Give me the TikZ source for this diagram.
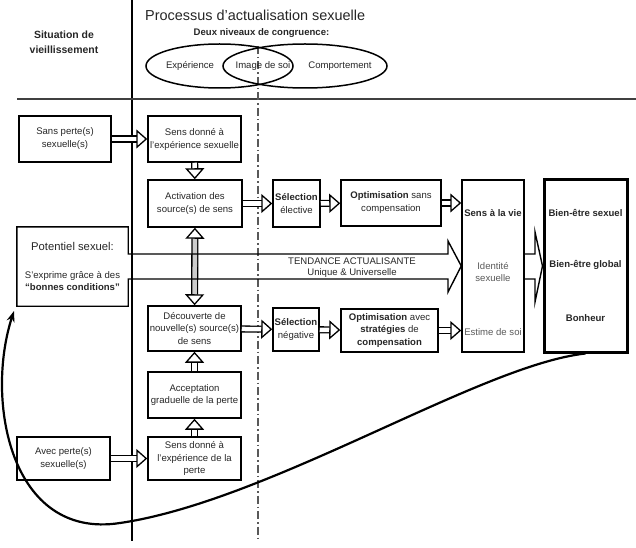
\documentclass[tikz,border=0pt]{standalone}
\usepackage{fontspec}
\setmainfont{Liberation Sans}
\usetikzlibrary{arrows.meta}

\begin{document}
\begin{tikzpicture}[x=1bp, y=-1bp,
    font=\fontsize{9.6}{13}\selectfont,
    boite/.style={draw, line width=1.5bp, inner sep=1bp, align=center, text=black!85},
    texte/.style={align=center, inner sep=0pt, text=black!85},
    fleche/.style={double=white, double distance=4.5bp, line width=1.3bp,
      -{Triangle[open, length=11bp, width=19bp, line width=1.3bp]}},
    flechedouble/.style={double=black!20, double distance=4.5bp, line width=1.3bp,
      {Triangle[open, length=11bp, width=19bp, line width=1.3bp]}-{Triangle[open, length=11bp, width=19bp, line width=1.3bp]}}]
    \useasboundingbox (0,0) rectangle (636,548);

    % Draw the separating lines
    \draw[line width=1.6bp] (132,0) -- (132,541);
    \draw[line width=2.2bp, black!75] (17,99) -- (636,99);
    \draw[black!65, line width=1.4bp, dash pattern=on 8bp off 3bp on 1.5bp off 3bp] (258,46) -- (258,541);

    % Headings
    \node[texte, font=\fontsize{10.5}{15}\selectfont\bfseries] (situation) at (64,42) {Situation de\\vieillissement};
    \node[texte, anchor=west, font=\fontsize{14.5}{16}\selectfont] (titre) at (145,15) {Processus d'actualisation sexuelle};
    \node[texte, font=\fontsize{9.6}{13}\selectfont\bfseries] (niveaux) at (261.5,33) {Deux niveaux de congruence:};

    % The two ellipses of congruence
    \draw[line width=1.5bp] (219.5,66) ellipse [x radius=73.5bp, y radius=22bp];
    \draw[line width=1.5bp] (305,66) ellipse [x radius=82bp, y radius=22bp];
    \node[texte] (experience) at (190,66) {Expérience};
    \node[texte] (imagesoi) at (263,66) {Image de soi};
    \node[texte] (comportement) at (340,66) {Comportement};

    % Boxes of the left column
    \node[boite, minimum width=92bp, minimum height=46bp] (sansperte) at (65,139) {Sans perte(s)\\sexuelle(s)};
    \node[boite, minimum width=93bp, minimum height=43bp] (avecperte) at (63.5,458.5) {Avec perte(s)\\sexuelle(s)};
    \node[texte, minimum width=111bp, minimum height=79bp] (potentiel) at (72.5,266.5)
        {{\fontsize{11.3}{13}\selectfont Potentiel sexuel:}\\[15bp] S'exprime grâce à des\\ \textbf{“bonnes conditions”}};

    % Boxes of the middle column
    \node[boite, minimum width=93bp, minimum height=46bp] (sensexp) at (194.5,139) {Sens donné à\\l'expérience sexuelle};
    \node[boite, minimum width=94bp, minimum height=47bp] (activation) at (195,203.5) {Activation des\\source(s) de sens};
    \node[boite, minimum width=93bp, minimum height=45bp] (decouverte) at (194.5,328.5) {Découverte de\\nouvelle(s) source(s)\\de sens};
    \node[boite, minimum width=93bp, minimum height=46bp] (acceptation) at (194.5,395) {Acceptation\\graduelle de la perte};
    \node[boite, minimum width=93bp, minimum height=43bp] (sensperte) at (194.5,458.5) {Sens donné à\\l'expérience de la\\perte};

    % Selection and optimisation
    \node[boite, minimum width=47bp, minimum height=47bp] (selelective) at (296.5,203.5) {\textbf{Sélection}\\élective};
    \node[boite, minimum width=46bp, minimum height=43bp] (selnegative) at (296,329.5) {\textbf{Sélection}\\négative};
    \node[boite, minimum width=100bp, minimum height=46bp] (optsans) at (391,203) {\textbf{Optimisation} sans\\compensation};
    \node[boite, minimum width=97bp, minimum height=43bp] (optavec) at (389.5,330.5) {\textbf{Optimisation} avec\\\textbf{stratégies} de\\\textbf{compensation}};

    % Outcomes
    \node[boite, minimum width=62bp, minimum height=172bp] (sensvie) at (493,266) {};
    \node[texte] (sensvietitre) at (493,213) {\textbf{Sens à la vie}};
    \node[texte, text=black!65] (identite) at (493,272) {Identité\\sexuelle};
    \node[texte, text=black!65] (estime) at (493,332) {Estime de soi};
    \node[boite, line width=3bp, minimum width=83bp, minimum height=172bp] (bienetre) at (585.5,266) {};
    \node[texte] (bienetresexuel) at (585.5,213) {\textbf{Bien-être sexuel}};
    \node[texte] (bienetreglobal) at (585.5,265) {\textbf{Bien-être global}};
    \node[texte] (bonheur) at (585.5,318) {\textbf{Bonheur}};

    % Hollow arrows between boxes
    \draw[fleche] (sansperte) -- (sensexp);
    \draw[fleche] (sensexp) -- (activation);
    \draw[flechedouble] (activation) -- (decouverte);
    \draw[fleche] (acceptation) -- (decouverte);
    \draw[fleche] (sensperte) -- (acceptation);
    \draw[fleche] (avecperte) -- (sensperte);
    \draw[fleche] (activation) -- (selelective);
    \draw[fleche] (decouverte) -- (selnegative);
    \draw[fleche] (selelective) -- (optsans);
    \draw[fleche] (selnegative) -- (optavec);
    \draw[fleche] (optsans.east) -- (optsans.east -| sensvie.west);
    \draw[fleche] (optavec.east) -- (optavec.east -| sensvie.west);

    % Big arrow of the tendency, open into the potentiel box
    \coordinate (th) at (448,254);
    \coordinate (tb) at (448,279);
    \coordinate (tfh) at (448,241);
    \coordinate (tfb) at (448,292);
    \draw[line width=1.4bp] (potentiel.east |- th) -- (potentiel.north east) -- (potentiel.north west)
        -- (potentiel.south west) -- (potentiel.south east) -- (potentiel.east |- tb)
        -- (tb) -- (tfb) -- (sensvie.west) -- (tfh) -- (th) -- cycle;
    \node[texte] (tendance) at (352,261) {TENDANCE ACTUALISANTE};
    \node[texte] (unique) at (352,273) {Unique \& Universelle};

    % Arrow into the well-being box
    \coordinate (bh) at (535,254);
    \coordinate (bb) at (535,279);
    \coordinate (bfh) at (535,232);
    \coordinate (bfb) at (535,302);
    \draw[line width=1.4bp] (sensvie.east |- bh) -- (bh) -- (bfh) -- (bienetre.west) -- (bfb) -- (bb) -- (sensvie.east |- bb);

    % Return curve
    \coordinate (retour) at (14,311);
    \draw[line width=2.2bp, -{Stealth[length=11bp, width=8bp]}] (bienetre.south)
        .. controls (480,365) and (270,501) .. (120,523)
        .. controls (10,540) and (-15,400) .. (retour);
\end{tikzpicture}
\end{document}
